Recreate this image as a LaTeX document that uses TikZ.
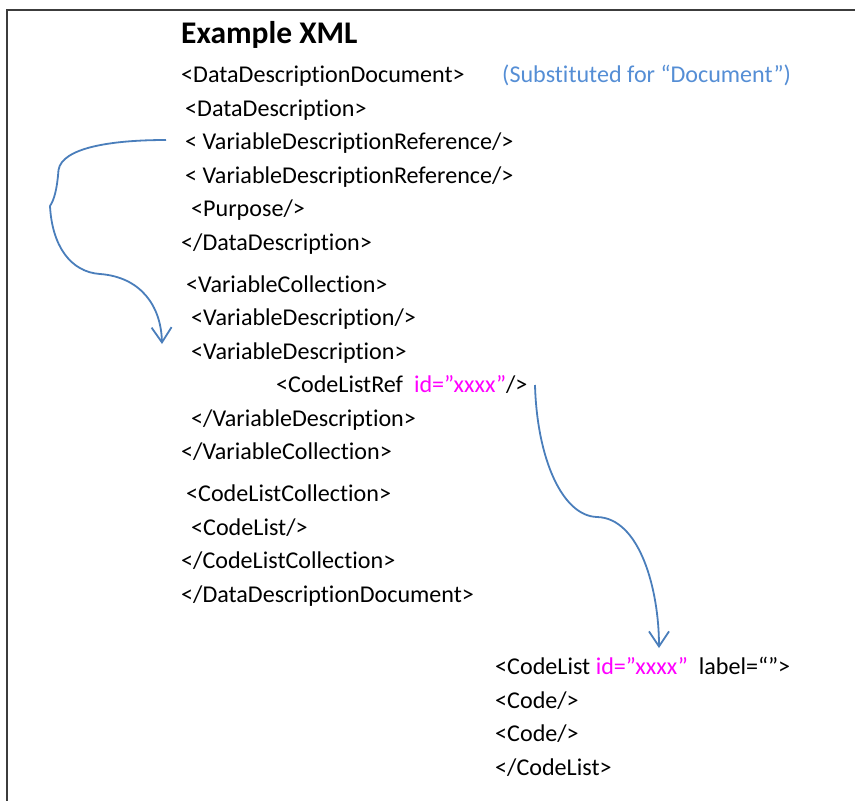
\documentclass[tikz,border=0pt]{standalone}
\usepackage{fontspec}
\setmainfont{Carlito}[Ligatures=NoCommon]
\usetikzlibrary{arrows.meta}
\definecolor{frame}{RGB}{60,60,60}
\definecolor{arrowblue}{RGB}{74,126,187}
\definecolor{noteblue}{RGB}{85,142,213}
\definecolor{idpink}{RGB}{255,0,255}
\tikzset{
  xmlline/.style={anchor=base west, inner sep=0pt, font=\fontsize{24.1}{28}\selectfont},
  titletext/.style={anchor=base west, inner sep=0pt, font=\fontsize{31.5}{36}\selectfont\bfseries},
  linkarrow/.style={draw=arrowblue, line width=1.8pt, -{Straight Barb[length=15pt,width=20pt,line width=1.8pt]}},
}
\begin{document}
\begin{tikzpicture}[x=1pt,y=-1pt]
\useasboundingbox (0,0) rectangle (855,801);
\draw[frame, line width=2pt] (6.5,801) -- (6.5,9.5) -- (855,9.5);
\node[titletext] (title) at (181,43) {Example XML};
\node[xmlline] (l2) at (181,82.5) {<DataDescriptionDocument>};
\node[xmlline, text=noteblue] (note) at (502,82.5) {(Substituted for “Document”)};
\node[xmlline] (l3) at (185,116) {<DataDescription>};
\node[xmlline] (l4) at (185,149.5) {< VariableDescriptionReference/>};
\node[xmlline] (l5) at (185,183) {< VariableDescriptionReference/>};
\node[xmlline] (l6) at (191,216.5) {<Purpose/>};
\node[xmlline] (l7) at (181,250) {</DataDescription>};
\node[xmlline] (l8) at (186,292) {<VariableCollection>};
\node[xmlline] (l9) at (191,325.5) {<VariableDescription/>};
\node[xmlline] (l10) at (191,359) {<VariableDescription>};
\node[xmlline] (l11) at (276,392.5) {<CodeListRef\ \ \textcolor{idpink}{id=”xxxx”}/>};
\node[xmlline] (l12) at (191,426) {</VariableDescription>};
\node[xmlline] (l13) at (181,459.5) {</VariableCollection>};
\node[xmlline] (l14) at (186,501.5) {<CodeListCollection>};
\node[xmlline] (l15) at (191,535) {<CodeList/>};
\node[xmlline] (l16) at (181,568.5) {</CodeListCollection>};
\node[xmlline] (l17) at (181,602) {</DataDescriptionDocument>};
\node[xmlline] (c1) at (495,674.5) {<CodeList \textcolor{idpink}{id=”xxxx”}\ \ label=“”>};
\node[xmlline] (c2) at (495,708) {<Code/>};
\node[xmlline] (c3) at (495,741.5) {<Code/>};
\node[xmlline] (c4) at (495,775) {</CodeList>};
\coordinate (a1s) at (166,140);
\coordinate (a1e) at (162,344);
\coordinate (a2s) at (535,385);
\coordinate (a2e) at (659,648);
\draw[linkarrow] (a1s) .. controls (110,140) and (62,148) .. (58.5,170)
  .. controls (57,190) and (54,200) .. (50,206)
  .. controls (52,245) and (70,272) .. (100,274)
  .. controls (140,277) and (161,305) .. (a1e);
\draw[linkarrow] (a2s) .. controls (537,458) and (562,516) .. (597,517)
  .. controls (640,518) and (659,590) .. (a2e);
\end{tikzpicture}
\end{document}
